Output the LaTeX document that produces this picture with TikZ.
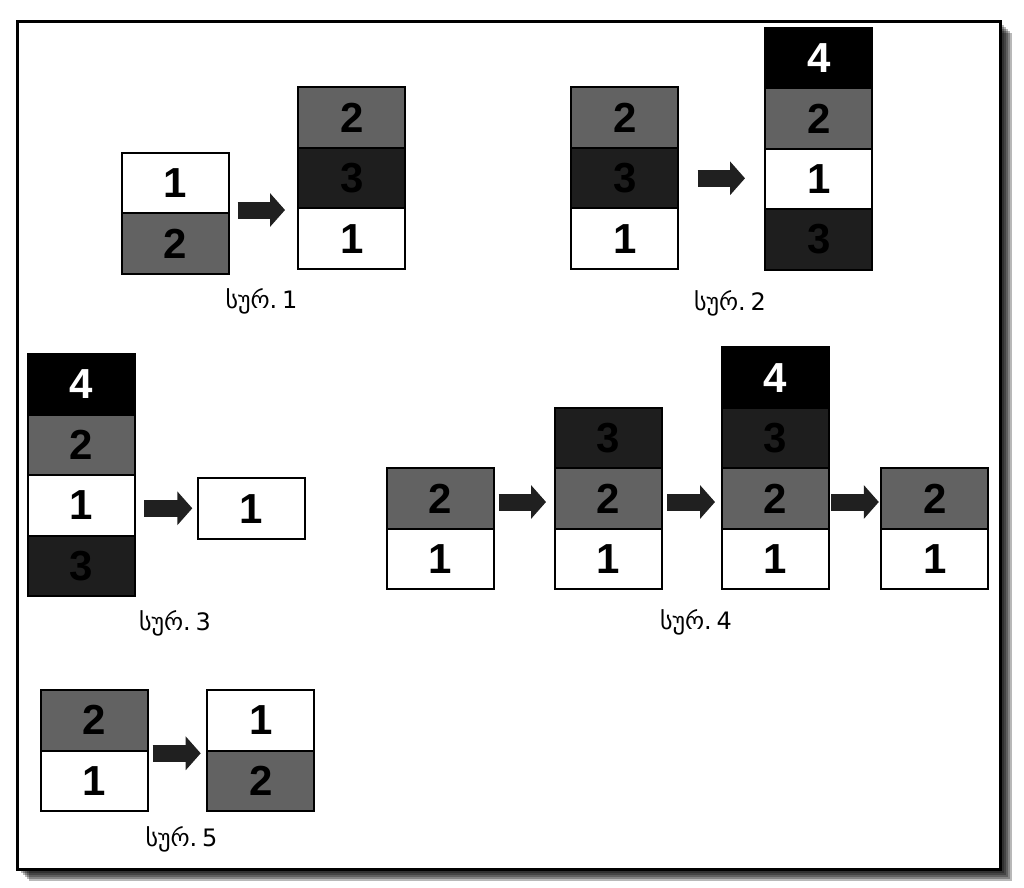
\documentclass[tikz,border=0pt]{standalone}
\usepackage{fontspec}
\newfontfamily\numfont{Liberation Sans}
\newfontfamily\geofont{DejaVu Sans}
\usetikzlibrary{arrows.meta}
\definecolor{cgray}{RGB}{98,98,98}
\definecolor{cdark}{RGB}{30,30,30}
\definecolor{carrow}{RGB}{32,32,32}
\tikzset{
  cell/.style={draw=black, line width=2pt, minimum width=107pt, minimum height=60.5pt,
    inner sep=0pt, outer sep=0pt, font=\numfont\bfseries\fontsize{42}{42}\selectfont},
  wc/.style={cell, fill=white, text=black},
  gc/.style={cell, fill=cgray, text=black},
  dc/.style={cell, fill=cdark, text=black},
  bc/.style={cell, fill=black, text=white},
  blockarrow/.style={draw=carrow, line width=17pt, -{Triangle[length=15pt,width=33pt]}},
  caption/.style={font=\geofont\fontsize{24}{24}\selectfont, inner sep=0pt}
}
\newcommand{\fig}[1]{სურ.\hspace{0.2em}#1}
\begin{document}
\begin{tikzpicture}[x=1pt,y=-1pt]
\useasboundingbox (0,0) rectangle (1024,887);
\fill[white] (0,0) rectangle (1024,887);
% frame shadow
\foreach \s in {2,4,6,8,10,12}{
  \fill[black, opacity=0.28] (17+\s,21+\s) rectangle (1000+\s,869+\s);
}
\draw[line width=3pt, fill=white] (17,21) rectangle (1000,869);

% ---- Fig 1
\node[wc] (f1a1) at (175,182.95) {1};
\node[gc] (f1a2) at (175,243.45) {2};
\node[gc] (f1b2) at (351.7,117.55) {2};
\node[dc] (f1b3) at (351.7,178.05) {3};
\node[wc] (f1b1) at (351.7,238.55) {1};
\coordinate (f1s) at (237.7,210);
\coordinate (f1e) at (285,210);
\draw[blockarrow] (f1s) -- (f1e);
\node[caption] (c1) at (261.5,301) {\fig{1}};

% ---- Fig 2
\node[gc] (f2a2) at (624.7,117.55) {2};
\node[dc] (f2a3) at (624.7,178.05) {3};
\node[wc] (f2a1) at (624.7,238.55) {1};
\node[bc] (f2b4) at (818.8,58.05) {4};
\node[gc] (f2b2) at (818.8,118.55) {2};
\node[wc] (f2b1) at (818.8,179.05) {1};
\node[dc] (f2b3) at (818.8,239.55) {3};
\coordinate (f2s) at (697.7,178.3);
\coordinate (f2e) at (745,178.3);
\draw[blockarrow] (f2s) -- (f2e);
\node[caption] (c2) at (730,303) {\fig{2}};

% ---- Fig 3
\node[bc] (f3a4) at (81.2,384.25) {4};
\node[gc] (f3a2) at (81.2,444.75) {2};
\node[wc] (f3a1) at (81.2,505.25) {1};
\node[dc] (f3a3) at (81.2,565.75) {3};
\node[wc] (f3b1) at (251.2,508.7) {1};
\coordinate (f3s) at (144.3,508.3);
\coordinate (f3e) at (192.3,508.3);
\draw[blockarrow] (f3s) -- (f3e);
\node[caption] (c3) at (175,623) {\fig{3}};

% ---- Fig 4
\node[gc] (f4a2) at (440,498.55) {2};
\node[wc] (f4a1) at (440,559.05) {1};
\node[dc] (f4b3) at (608,438.05) {3};
\node[gc] (f4b2) at (608,498.55) {2};
\node[wc] (f4b1) at (608,559.05) {1};
\node[bc] (f4c4) at (775.2,377.55) {4};
\node[dc] (f4c3) at (775.2,438.05) {3};
\node[gc] (f4c2) at (775.2,498.55) {2};
\node[wc] (f4c1) at (775.2,559.05) {1};
\node[gc] (f4d2) at (934.9,498.55) {2};
\node[wc] (f4d1) at (934.9,559.05) {1};
\coordinate (f4s1) at (498.6,502);
\coordinate (f4e1) at (546,502);
\coordinate (f4s2) at (667,502);
\coordinate (f4e2) at (715,502);
\coordinate (f4s3) at (831.4,502);
\coordinate (f4e3) at (878.8,502);
\draw[blockarrow] (f4s1) -- (f4e1);
\draw[blockarrow] (f4s2) -- (f4e2);
\draw[blockarrow] (f4s3) -- (f4e3);
\node[caption] (c4) at (696,622) {\fig{4}};

% ---- Fig 5
\node[gc] (f5a2) at (94.5,720.25) {2};
\node[wc] (f5a1) at (94.5,780.75) {1};
\node[wc] (f5b1) at (260.7,720.25) {1};
\node[gc] (f5b2) at (260.7,780.75) {2};
\coordinate (f5s) at (152.7,753.3);
\coordinate (f5e) at (200.7,753.3);
\draw[blockarrow] (f5s) -- (f5e);
\node[caption] (c5) at (181.5,839) {\fig{5}};
\end{tikzpicture}
\end{document}
